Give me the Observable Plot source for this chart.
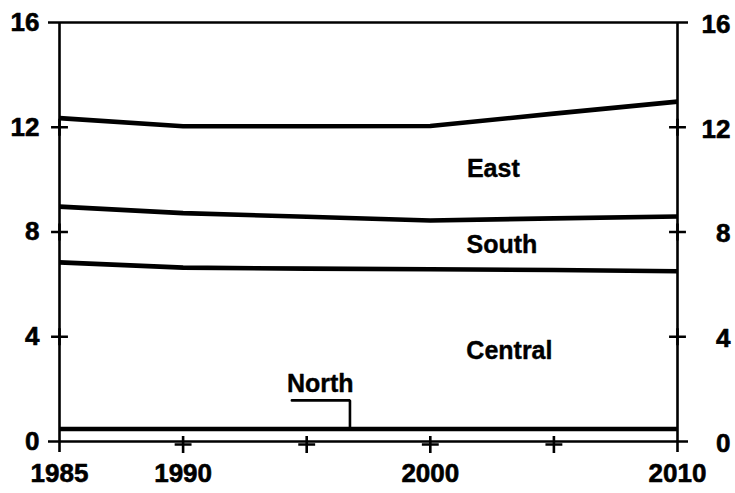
<!DOCTYPE html>
<html>
<head>
<meta charset="utf-8">
<script src="https://cdn.jsdelivr.net/npm/d3@7"></script>
<script src="https://cdn.jsdelivr.net/npm/@observablehq/plot@0.6"></script>
<style>
  html, body { margin: 0; padding: 0; background: #fff; }
  #chart svg { display: block; }
</style>
</head>
<body>
<div id="chart"></div>
<script>
// Years sampled
const years = [1985, 1990, 1995, 2000, 2005, 2010];
// Cumulative boundary levels (top of each region band)
const northTop   = [0.48, 0.48, 0.48, 0.48, 0.48, 0.48];
const centralTop = [6.84, 6.64, 6.60, 6.58, 6.55, 6.50];
const southTop   = [8.97, 8.72, 8.58, 8.44, 8.52, 8.59];
const eastTop    = [12.35, 12.04, 12.04, 12.05, 12.52, 12.98];

// Axis ticks
const yTicks = [0, 4, 8, 12, 16];
const xTickLabels = [1985, 1990, 2000, 2010];
const xMinorTicks = [1990, 1995, 2000, 2005];

// Region labels (data coordinates)
const regionNames = ["East", "South", "Central", "North"];
const regionLabelX = [2002.55, 2002.9, 2003.2, 1995.55];
const regionLabelY = [10.42, 7.52, 3.44, 2.2];

// North callout leader
const leaderX = [1994.4, 1996.75, 1996.75];
const leaderY = [1.57, 1.57, 0.5];

const series = [
  {name: "North", values: northTop},
  {name: "Central", values: centralTop},
  {name: "South", values: southTop},
  {name: "East", values: eastTop}
];
const lineData = series.flatMap(s => years.map((yr, i) => ({region: s.name, year: yr, value: s.values[i]})));
const labels = regionNames.map((n, i) => ({name: n, x: regionLabelX[i], y: regionLabelY[i]}));
const leader = leaderX.map((x, i) => ({x, y: leaderY[i]}));
const innerYTicks = yTicks.filter(t => t > 0 && t < 16);

const font = "'Liberation Sans', Arial, Helvetica, sans-serif";
const heavy = {fontWeight: "bold", stroke: "#000", strokeWidth: 0.6, fill: "#000"};

const chart = Plot.plot({
  width: 735,
  height: 493,
  marginLeft: 59,
  marginRight: 58,
  marginTop: 22,
  marginBottom: 52,
  x: {domain: [1985, 2010], axis: null},
  y: {domain: [0, 16], axis: null},
  style: {fontFamily: font, background: "#fff", color: "#000"},
  marks: [
    // frame
    Plot.ruleX([1985, 2010], {stroke: "#000", strokeWidth: 2.6, insetBottom: -11}),
    Plot.ruleY([0, 16], {stroke: "#000", strokeWidth: 2.6, insetLeft: -11, insetRight: -11}),
    // crossing ticks
    Plot.dot(innerYTicks, {x: () => 1985, y: d => d, symbol: "plus", r: 5.5, stroke: "#000", strokeWidth: 2.6}),
    Plot.dot(innerYTicks, {x: () => 2010, y: d => d, symbol: "plus", r: 5.5, stroke: "#000", strokeWidth: 2.6}),
    Plot.dot(xMinorTicks, {x: d => d, y: () => 0, symbol: "plus", r: 5.5, stroke: "#000", strokeWidth: 2.6, dy: 3}),
    // data lines
    Plot.line(lineData, {x: "year", y: "value", z: "region", stroke: "#000", strokeWidth: 4.6, strokeLinecap: "butt"}),
    // North callout
    Plot.line(leader, {x: "x", y: "y", stroke: "#000", strokeWidth: 2.6, strokeLinejoin: "miter"}),
    // tick labels
    Plot.text(yTicks, {x: () => 1985, y: d => d, text: d => String(d), dx: -20, textAnchor: "end", lineAnchor: "middle", fontSize: 26, letterSpacing: -0.5, ...heavy}),
    Plot.text(yTicks, {x: () => 2010, y: d => d, text: d => String(d), dx: 53, dy: 2, textAnchor: "end", lineAnchor: "middle", fontSize: 26, letterSpacing: -0.5, ...heavy}),
    Plot.text(xTickLabels, {x: d => d, y: () => 0, text: d => String(d), dy: 32, textAnchor: "middle", lineAnchor: "middle", fontSize: 26, letterSpacing: -0.8, ...heavy}),
    // region labels
    Plot.text(labels, {x: "x", y: "y", text: "name", textAnchor: "middle", lineAnchor: "middle", fontSize: 25, ...heavy, strokeWidth: 0.4})
  ]
});
document.getElementById("chart").appendChild(chart);
</script>
</body>
</html>
